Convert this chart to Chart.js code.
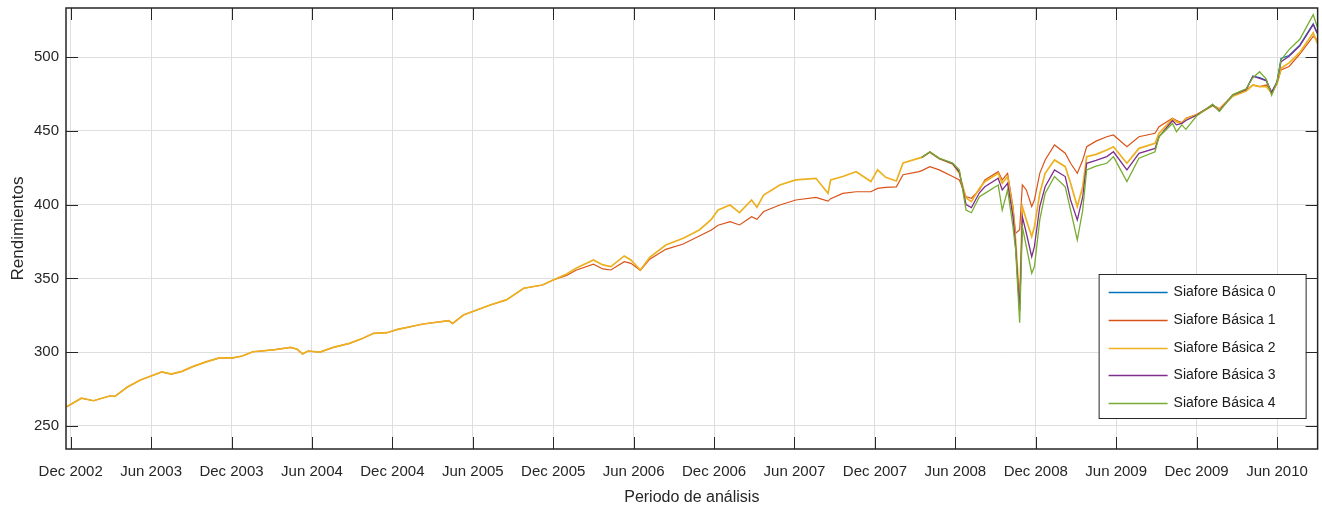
<!DOCTYPE html>
<html lang="es">
<head>
<meta charset="utf-8">
<title>Rendimientos Siafores</title>
<script src="https://cdn.jsdelivr.net/npm/chart.js@4.4.1/dist/chart.umd.min.js"></script>
<style>
  html, body { margin: 0; padding: 0; background: #fff; }
  #wrap { width: 1322px; height: 508px; }
</style>
</head>
<body>
<div id="wrap"><canvas id="rendChart" width="1322" height="508"></canvas></div>
<script>
// eje x: meses transcurridos desde el 1 de diciembre de 2002
const meses = [
  -0.3, 0.8, 1.7, 2.9, 3.3, 4.2, 5.2, 6.0, 6.8, 7.5, 8.3, 9.1, 10.1, 11.1, 12.1, 12.8, 13.6, 15.1,
  16.4, 16.9, 17.3, 17.7, 18.6, 19.6, 20.8, 21.8, 22.6, 23.6, 24.4, 26.3, 28.2, 28.5, 29.3, 31.3,
  32.5, 33.8, 35.2, 36.0, 37.0, 37.7, 39.0, 39.7, 40.3, 41.3, 41.8, 42.5, 43.2, 44.4, 45.7, 46.9,
  47.8, 48.3, 49.2, 49.9, 50.8, 51.2, 51.7, 52.9, 54.1, 55.6, 56.5, 56.7, 57.6, 58.6, 59.7, 60.2,
  60.8, 61.6, 62.1, 63.3, 63.5, 64.1, 64.8, 65.8, 66.3, 66.8, 67.2, 67.8, 68.2, 69.2, 69.5, 69.9,
  70.3, 70.5, 70.8, 71.0, 71.3, 71.7, 71.9, 72.3, 72.7, 73.4, 74.2, 74.6, 75.1, 75.5, 75.8, 76.5,
  77.3, 77.8, 78.8, 79.7, 80.9, 81.2, 82.2, 82.5, 82.9, 83.2, 84.0, 85.2, 85.7, 86.7, 87.7, 88.2,
  88.7, 89.2, 89.6, 90.0, 90.3, 90.9, 91.7, 92.7, 93.0
];

const n = null;

const sb0 = [
  n, n, n, n, n, n, n, n, n, n, n, n, n, n, n, n, n, n,
  n, n, n, n, n, n, n, n, n, n, n, n, n, n, n, n,
  n, n, n, n, n, n, n, n, n, n, n, n, n, n, n, n,
  n, n, n, n, n, n, n, n, n, n, n, n, n, n, n, n,
  n, n, n, n, n, n, n, n, n, n, n, n, n, n, n, n,
  n, n, n, n, n, n, n, n, n, n, n, n, n, n, n, n,
  n, n, n, n, n, n, n, n, n, n, 460.5, 467.5, 464, 474, 478, 487,
  486, 484, 476, 483, 499, 501, 508, 522.5, 516.5
];

const sb1 = [
  263, 268.8, 267.1, 270.3, 270, 276.2, 281.2, 283.9, 286.6, 285.2, 287, 290.2, 293.4, 296.1, 296.1, 297.4, 300.3, 301.5,
  303.3, 302, 298.8, 300.8, 300.1, 303.3, 306, 309.4, 312.8, 313.2, 315.5, 319.1, 321.3, 319.5, 325.2, 332,
  335.4, 343.3, 345.5, 348.9, 352, 355.5, 359.6, 356.4, 355.7, 361.3, 360.2, 355.4, 363, 369.7, 373.3, 378.7,
  382.8, 386, 388.4, 386.2, 391.8, 390, 395.3, 399.7, 403.1, 404.9, 402.3, 404, 407.6, 408.7, 408.7, 411,
  411.7, 412, 420.2, 422.3, 423, 425.7, 423.5, 419, 416.7, 405.4, 404.3, 409.9, 416.7, 422.3, 416.7, 421.2,
  398.7, 380.6, 383, 413.3, 409.9, 398.7, 403.1, 421.2, 430.2, 440.4, 434.8, 428, 421.2, 430, 439.2, 443,
  446, 447.2, 439.2, 446, 448.3, 452.8, 458.5, 457, 455.5, 458.5, 461, 467.5, 465, 474, 477.6, 481,
  480, 481, 476, 482, 491.2, 493.6, 501.9, 514, 511.5
];

const sb2 = [
  263, 268.8, 267.1, 270.3, 270, 276.2, 281.2, 283.9, 286.6, 285.2, 287, 290.2, 293.4, 296.1, 296.1, 297.4, 300.3, 301.5,
  303.3, 302, 298.8, 300.8, 300.1, 303.3, 306, 309.4, 312.8, 313.2, 315.5, 319.1, 321.3, 319.5, 325.2, 332,
  335.4, 343.3, 345.5, 348.9, 353, 356.8, 362.5, 359.1, 358, 365.2, 362.5, 355.7, 364.3, 372.6, 377.2, 382.8,
  390, 396.3, 399.7, 394.5, 403.1, 398.2, 406.5, 413.3, 416.7, 417.8, 407.6, 416.7, 419, 422.3, 415.6, 423.5,
  418.5, 416, 428.2, 431.5, 432, 435.5, 431, 427.5, 421, 404.5, 402, 411, 415.5, 421.2, 414.4, 419,
  396.3, 376, 333, 398.7, 389.6, 378.3, 385, 407.6, 421.2, 430.2, 425.7, 414.4, 398.7, 412, 432.5, 434,
  437, 439.2, 428, 438.1, 441.5, 448.3, 458, 456, 455, 458, 460.7, 467, 464.5, 473.5, 477, 481,
  479.9, 480, 475.4, 482, 492.3, 496, 503.1, 516.4, 509.3
];

const sb3 = [
  n, n, n, n, n, n, n, n, n, n, n, n, n, n, n, n, n, n,
  n, n, n, n, n, n, n, n, n, n, n, n, n, n, n, n,
  n, n, n, n, n, n, n, n, n, n, n, n, n, n, n, n,
  n, n, n, n, n, n, n, n, n, n, n, n, n, n, n, n,
  n, n, n, n, 432, 435.6, 431.2, 427.8, 422, 400, 398, 408, 412.1, 417.8, 409.9, 414.4,
  391.8, 371.5, 328, 391.8, 380.6, 364.7, 371.5, 398.7, 412.1, 423.5, 419, 403.1, 389.6, 405, 428, 430,
  432.5, 435.8, 423.5, 434.7, 438.1, 446, 457, 454, 455, 457, 460.5, 467.5, 463.5, 474.3, 478, 487,
  485.5, 484, 476, 483, 496.8, 500.5, 507.6, 522, 516
];

const sb4 = [
  n, n, n, n, n, n, n, n, n, n, n, n, n, n, n, n, n, n,
  n, n, n, n, n, n, n, n, n, n, n, n, n, n, n, n,
  n, n, n, n, n, n, n, n, n, n, n, n, n, n, n, n,
  n, n, n, n, n, n, n, n, n, n, n, n, n, n, n, n,
  n, n, n, n, 432, 435.8, 431.5, 428.2, 423.5, 396.3, 394.5, 405.4, 407.6, 413.3, 396.3, 409.9,
  385, 369.2, 320, 385, 371.5, 353.5, 357.9, 389.6, 407.6, 419, 412.1, 396.3, 376, 396, 423.5, 426,
  428, 432.5, 415.6, 431.4, 435.8, 446, 455, 449.4, 454, 451, 460, 468, 463, 474.5, 478.5, 486,
  490, 485, 474, 483, 498, 505, 512, 528.7, 520.5
];

const etiquetasX = [
  'Dec 2002', 'Jun 2003', 'Dec 2003', 'Jun 2004', 'Dec 2004', 'Jun 2005', 'Dec 2005', 'Jun 2006',
  'Dec 2006', 'Jun 2007', 'Dec 2007', 'Jun 2008', 'Dec 2008', 'Jun 2009', 'Dec 2009', 'Jun 2010'
];
const ticksY = [250, 300, 350, 400, 450, 500];

const series = [
  { label: 'Siafore Básica 0', data: sb0, color: '#0072BD', ancho: 1.3 },
  { label: 'Siafore Básica 1', data: sb1, color: '#D95319', ancho: 1.2 },
  { label: 'Siafore Básica 2', data: sb2, color: '#EDB120', ancho: 1.7 },
  { label: 'Siafore Básica 3', data: sb3, color: '#7E2F8E', ancho: 1.3 },
  { label: 'Siafore Básica 4', data: sb4, color: '#77AC30', ancho: 1.3 }
];

const colorEjes = '#262626';
Chart.defaults.font.family = "'Liberation Sans', Arial, sans-serif";
Chart.defaults.color = colorEjes;

// caja de ejes con marcas hacia dentro y leyenda dentro del area de trazado
const marcoEjes = {
  id: 'marcoEjes',
  afterDraw(chart) {
    const { ctx, chartArea: a, scales: { x, y } } = chart;
    const largo = 12;
    ctx.save();
    ctx.strokeStyle = colorEjes;
    ctx.lineWidth = 1;
    ctx.beginPath();
    x.ticks.forEach(t => {
      const px = Math.round(x.getPixelForValue(t.value)) + 0.5;
      ctx.moveTo(px, a.bottom); ctx.lineTo(px, a.bottom - largo);
      ctx.moveTo(px, a.top); ctx.lineTo(px, a.top + largo);
    });
    y.ticks.forEach(t => {
      const py = Math.round(y.getPixelForValue(t.value)) + 0.5;
      ctx.moveTo(a.left, py); ctx.lineTo(a.left + largo, py);
      ctx.moveTo(a.right, py); ctx.lineTo(a.right - largo, py);
    });
    ctx.stroke();
    ctx.lineWidth = 1.5;
    ctx.strokeRect(a.left, a.top, a.right - a.left, a.bottom - a.top);

    // leyenda
    const lx = a.right - 219, ly = a.bottom - 175, lw = 207, lh = 144;
    ctx.fillStyle = '#fff';
    ctx.fillRect(lx, ly, lw, lh);
    ctx.lineWidth = 1;
    ctx.strokeStyle = colorEjes;
    ctx.strokeRect(lx + 0.5, ly + 0.5, lw, lh);
    ctx.font = "14px 'Liberation Sans', Arial, sans-serif";
    ctx.textBaseline = 'middle';
    ctx.textAlign = 'left';
    chart.data.datasets.forEach((ds, i) => {
      const yy = Math.round(ly + 18 + i * 27.75) + 0.5;
      ctx.strokeStyle = ds.borderColor;
      ctx.lineWidth = 1.3;
      ctx.beginPath();
      ctx.moveTo(lx + 10, yy);
      ctx.lineTo(lx + 69, yy);
      ctx.stroke();
      ctx.fillStyle = '#1a1a1a';
      ctx.fillText(ds.label, lx + 75, yy);
    });
    ctx.restore();
  }
};

const rendChart = new Chart(document.getElementById('rendChart').getContext('2d'), {
  type: 'line',
  data: {
    datasets: series.map((s, i) => ({
      label: s.label,
      data: meses.map((m, j) => ({ x: m, y: s.data[j] })),
      borderColor: s.color,
      backgroundColor: s.color,
      borderWidth: s.ancho,
      pointRadius: 0,
      tension: 0,
      order: series.length - i
    }))
  },
  options: {
    responsive: false,
    animation: false,
    devicePixelRatio: 1,
    layout: { padding: { top: 8, right: 4, left: 0, bottom: 0 } },
    plugins: {
      legend: { display: false },
      tooltip: { enabled: false }
    },
    scales: {
      x: {
        type: 'linear',
        min: -0.35,
        max: 93.03,
        afterFit: (scale) => { scale.height = 59; },
        afterBuildTicks: (scale) => { scale.ticks = etiquetasX.map((_, i) => ({ value: i * 6 })); },
        grid: { color: '#dedede', drawTicks: false },
        border: { display: false },
        ticks: {
          autoSkip: false,
          maxRotation: 0,
          padding: 14,
          font: { size: 15 },
          callback: (v) => etiquetasX[Math.round(v / 6)]
        },
        title: {
          display: true,
          text: 'Periodo de análisis',
          font: { size: 16 },
          padding: { top: 0, bottom: 1 }
        }
      },
      y: {
        min: 234.4,
        max: 533.2,
        afterFit: (scale) => {
          scale.width = 66;
          scale.paddingTop = 0;
          scale.paddingBottom = 0;
        },
        afterBuildTicks: (scale) => { scale.ticks = ticksY.map(v => ({ value: v })); },
        grid: { color: '#dedede', drawTicks: false },
        border: { display: false },
        ticks: { padding: 7, font: { size: 15 } },
        title: {
          display: true,
          text: 'Rendimientos',
          font: { size: 17 },
          padding: { top: 8, bottom: 0 }
        }
      }
    }
  },
  plugins: [marcoEjes]
});
</script>
</body>
</html>
